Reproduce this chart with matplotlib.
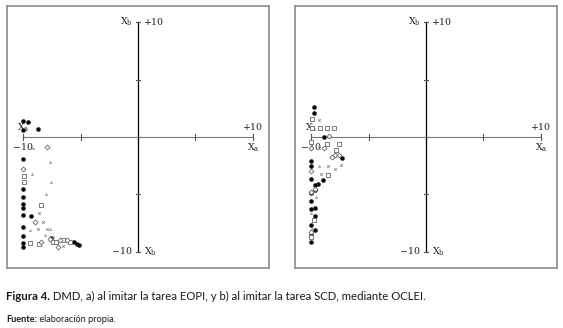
import matplotlib
matplotlib.use("Agg")
import matplotlib.pyplot as plt

plt.rcParams['mathtext.fontset'] = 'dejavuserif'

# panel a) EOPI  -- (Xa, Xb) values per marker type
a_dot_x = [-10, -9.6, -8.7, -10, -10, -10, -10, -10, -10, -10, -10, -10, -10, -10, -9.3, -7.6, -5.6, -5.35, -5.1]
a_dot_y = [1.4, 1.3, 0.7, 0.6, -1.9, -4.55, -5.25, -5.8, -6.15, -6.8, -7.8, -8.6, -9.2, -9.6, -6.9, -8.8, -9.15, -9.3, -9.4]
a_sq_x = [-9.9, -9.9, -8.4, -9.4, -8.6, -7.4, -7.1, -6.5, -5.9]
a_sq_y = [-3.4, -3.9, -5.9, -9.2, -9.3, -9.1, -9.1, -9.0, -9.1]
a_dia_x = [-7.9, -10, -9.0, -8.4, -7.0, -7.65, -6.8, -6.2]
a_dia_y = [-0.9, -2.8, -7.4, -9.1, -9.6, -8.9, -8.95, -8.95]
a_x_x = [-8.6, -7.9, -8.7, -8.3, -7.4, -6.5]
a_x_y = [-6.6, -8.0, -8.0, -7.4, -8.7, -9.5]
a_tick_x = [-9.1, -7.65, -9.2, -8.0, -7.6, -9.4, -7.65, -8.1]
a_tick_y = [-1.0, -2.2, -3.2, -5.0, -3.9, -8.1, -8.0, -8.5]

# panel b) SCD
b_dot_x = [-9.74, -9.74, -8.87, -7.3, -8.96, -9.4, -10, -10, -10, -10, -10, -10, -10, -10, -10, -9.7, -9.7, -9.7, -9.7, -9.7]
b_dot_y = [2.6, 2.06, 0.0, -1.8, -3.77, -4.1, -2.1, -2.5, -3.65, -4.9, -5.6, -6.3, -7.7, -8.5, -9.1, -4.2, -4.6, -6.2, -6.9, -8.1]
b_sq_x = [-9.9, -9.9, -9.25, -8.6, -8.0, -8.6, -7.6, -7.85, -10, -8.5, -9.74, -10]
b_sq_y = [1.6, 0.8, 0.8, 0.75, 0.8, -0.6, -0.6, -1.1, -0.4, -3.3, -7.2, -8.7]
b_dia_x = [-8.4, -8.9, -8.17, -7.9, -7.6, -10, -10, -9.66, -10, -10]
b_dia_y = [0.1, -1.0, -1.74, -1.6, -1.6, -3.0, -1.0, -4.5, -4.8, -8.3]
b_x_x = [-9.3, -8.5, -9.1, -7.9, -7.4, -9.3]
b_x_y = [1.5, -2.5, -3.2, -2.8, -2.4, -1.0]
b_tick_x = [-9.3, -9.6, -10, -9.9]
b_tick_y = [-2.5, -5.2, -6.6, -7.9]

tick_pos = [-10, -5, 5, 10]

caption_bold = "Figura 4."
caption = " DMD, a) al imitar la tarea EOPI, y b) al imitar la tarea SCD, mediante OCLEI."
source_bold = "Fuente:"
source = " elaboración propia."

W, H = 563, 328
fig = plt.figure(figsize=(W / 100, H / 100), dpi=100)
fig.patch.set_facecolor("white")

lim = 11.4
panels = [
    (7, (a_dot_x, a_dot_y), (a_sq_x, a_sq_y), (a_dia_x, a_dia_y), (a_x_x, a_x_y), (a_tick_x, a_tick_y)),
    (295, (b_dot_x, b_dot_y), (b_sq_x, b_sq_y), (b_dia_x, b_dia_y), (b_x_x, b_x_y), (b_tick_x, b_tick_y)),
]

lab = dict(family="DejaVu Serif", fontsize=6.8, color="#222222")

for left, dots, sqs, dias, xs, ticks in panels:
    ax = fig.add_axes([left / W, 1 - 268 / H, 262 / W, 262 / H])
    ax.set_xlim(-lim, lim)
    ax.set_ylim(-lim, lim)
    ax.set_xticks([])
    ax.set_yticks([])
    for s in ax.spines.values():
        s.set_color("#8c8c8c")
        s.set_linewidth(1.2)

    # axes cross
    ax.plot([-10, 10], [0, 0], color="#777777", lw=0.8, zorder=1)
    ax.plot([0, 0], [-10, 10], color="black", lw=0.9, zorder=1)
    for t in tick_pos:
        ax.plot([t, t], [-0.25, 0.25], color="#555555", lw=0.8, zorder=1)
        ax.plot([-0.2, 0.2], [t, t], color="#555555", lw=0.8, zorder=1)

    ax.text(-0.5, 10, r"X$_\mathrm{b}$", ha="right", va="center", **lab)
    ax.text(0.5, 10, "+10", ha="left", va="center", **lab)
    ax.text(-0.5, -10, "\u221210", ha="right", va="center", **lab)
    ax.text(0.5, -10, r"X$_\mathrm{b}$", ha="left", va="center", **lab)
    ax.text(10, 0.8, "+10", ha="center", va="center", **lab)
    ax.text(10, -0.9, r"X$_\mathrm{a}$", ha="center", va="center", **lab)
    ax.text(-10, 0.8, r"X$_\mathrm{a}$", ha="center", va="center", **lab)
    ax.text(-10, -0.9, "\u221210", ha="center", va="center", **lab)

    ax.plot(*dots, "o", ms=2.8, mfc="black", mec="#333333", mew=0.5, ls="none", zorder=3)
    ax.plot(*sqs, "s", ms=2.6, mfc="white", mec="#666666", mew=0.6, ls="none", zorder=3)
    ax.plot(*dias, "D", ms=2.5, mfc="white", mec="#666666", mew=0.6, ls="none", zorder=3)
    ax.plot(*xs, "x", ms=1.9, mec="#777777", mew=0.5, ls="none", zorder=3)
    ax.plot(*ticks, "^", ms=1.5, mfc="none", mec="#888888", mew=0.5, ls="none", zorder=3)

cap = dict(family="Lato", fontsize=8.2, color="#1a1a1a")
t1 = fig.text(6 / W, 1 - 296 / H, caption_bold, va="center", ha="left", weight="bold", **cap)
fig.canvas.draw()
bb = t1.get_window_extent()
fig.text(bb.x1 / W, 1 - 296 / H, caption, va="center", ha="left", **cap)

src = dict(family="Lato", fontsize=6.6, color="#1a1a1a")
t2 = fig.text(6 / W, 1 - 319 / H, source_bold, va="center", ha="left", weight="bold", **src)
fig.canvas.draw()
bb2 = t2.get_window_extent()
fig.text(bb2.x1 / W, 1 - 319 / H, source, va="center", ha="left", **src)

fig.savefig("out.png", dpi=100, facecolor="white")
